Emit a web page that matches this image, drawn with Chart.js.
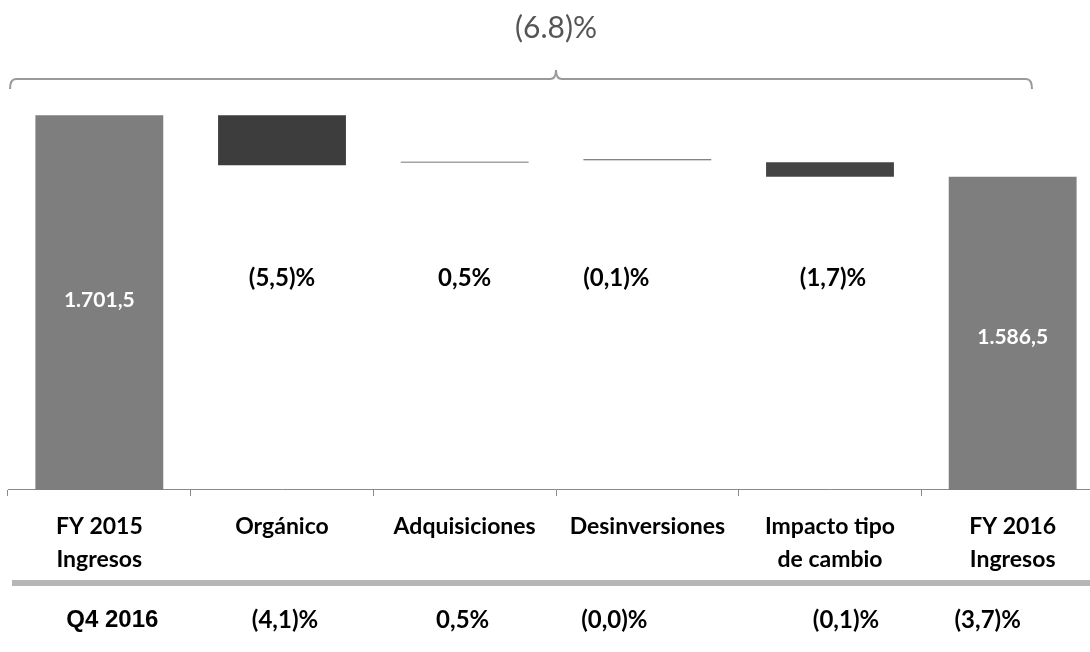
<!DOCTYPE html>
<html>
<head>
<meta charset="utf-8">
<script src="https://cdn.jsdelivr.net/npm/chart.js@4"></script>
<style>
    html, body { margin: 0; padding: 0; background: #fff; overflow: hidden; }
    #wrap { position: relative; width: 1104px; height: 652px; }
</style>
</head>
<body>
<div id="wrap"><canvas id="puente-chart"></canvas></div>
<script>
// Datos del puente de ingresos (millones)
const categorias = [['FY 2015', 'Ingresos'], 'Orgánico', 'Adquisiciones', 'Desinversiones', ['Impacto tipo', 'de cambio'], ['FY 2016', 'Ingresos']];
const tramos = [[0, 1701.5], [1607.9, 1701.5], [1612, 1615], [1617, 1619], [1586.5, 1613.5], [0, 1586.5]];
const coloresBarras = ['#7e7e7e', '#3d3d3d', '#a3a3a3', '#5a5a5a', '#444444', '#7e7e7e'];
const etiquetasValor = ['1.701,5', '(5,5)%', '0,5%', '(0,1)%', '(1,7)%', '1.586,5'];
const variacionTotal = '(6.8)%';
const filaQ4Titulo = 'Q4 2016';
const filaQ4Valores = ['(4,1)%', '0,5%', '(0,0)%', '(0,1)%', '(3,7)%'];

const FUENTE = 'Lato, "Open Sans", sans-serif';

/**
 * Dibuja textos, llave superior y fila Q4
 */
const decoracion = {
    id: 'decoracion',
    afterDatasetsDraw(chart) {
        const ctx = chart.ctx;
        const meta = chart.getDatasetMeta(0);
        ctx.save();
        ctx.textAlign = 'center';
        ctx.textBaseline = 'middle';

        // Valores dentro de las barras totales
        ctx.fillStyle = '#ffffff';
        ctx.font = 'bold 21px ' + FUENTE;
        ctx.fillText(etiquetasValor[0], meta.data[0].x, 300);
        ctx.fillText(etiquetasValor[5], meta.data[5].x, 337);

        // Porcentajes de cada variación
        const ajusteMedio = [0, 0, -31, 3];
        ctx.fillStyle = '#000000';
        ctx.font = 'bold 24px ' + FUENTE;
        for (let i = 1; i <= 4; i++) {
            ctx.fillText(etiquetasValor[i], meta.data[i].x + ajusteMedio[i - 1], 278);
        }

        // Llave superior
        const xc = 556;
        const yl = 79;
        ctx.strokeStyle = '#9a9a9a';
        ctx.lineWidth = 2;
        ctx.beginPath();
        ctx.moveTo(10, 89);
        ctx.quadraticCurveTo(10, yl, 16, yl);
        ctx.lineTo(xc - 6, yl);
        ctx.quadraticCurveTo(xc, yl, xc, 70);
        ctx.quadraticCurveTo(xc, yl, xc + 6, yl);
        ctx.lineTo(1026, yl);
        ctx.quadraticCurveTo(1032, yl, 1032, 89);
        ctx.stroke();

        ctx.fillStyle = '#555555';
        ctx.font = '30px ' + FUENTE;
        ctx.fillText(variacionTotal, xc, 28);

        // Banda gris y fila Q4
        ctx.fillStyle = '#b6b6b6';
        ctx.fillRect(12, 580, chart.width - 12, 6);

        ctx.fillStyle = '#000000';
        ctx.font = 'bold 24px "Liberation Sans", Arial, sans-serif';
        ctx.fillText(filaQ4Titulo, meta.data[0].x + 13, 620);
        const ajusteQ4 = [3, -2, -33, 16, -25];
        ctx.font = 'bold 24px ' + FUENTE;
        filaQ4Valores.forEach((txt, i) => {
            ctx.fillText(txt, meta.data[i + 1].x + ajusteQ4[i], 620);
        });
        ctx.restore();
    }
};

const ctx = document.getElementById('puente-chart');
new Chart(ctx, {
    type: 'bar',
    data: {
        labels: categorias,
        datasets: [{
            data: tramos,
            backgroundColor: coloresBarras,
            borderWidth: 0,
            barPercentage: 0.7,
            categoryPercentage: 1.0
        }]
    },
    options: {
        responsive: true,
        maintainAspectRatio: false,
        animation: false,
        layout: {
            padding: { top: 100, left: 8, right: 0, bottom: 62 }
        },
        scales: {
            x: {
                grid: {
                    display: true,
                    drawOnChartArea: false,
                    drawTicks: true,
                    tickLength: 6,
                    color: '#8a8a8a'
                },
                border: { display: true, color: '#8a8a8a', width: 1 },
                ticks: {
                    color: '#000000',
                    padding: 14,
                    maxRotation: 0,
                    autoSkip: false,
                    font: { family: FUENTE, size: 23, weight: 'bold', lineHeight: 1.435 }
                }
            },
            y: {
                display: false,
                min: 1000,
                max: 1730
            }
        },
        plugins: {
            legend: { display: false },
            tooltip: { enabled: false }
        }
    },
    plugins: [decoracion]
});
</script>
</body>
</html>
